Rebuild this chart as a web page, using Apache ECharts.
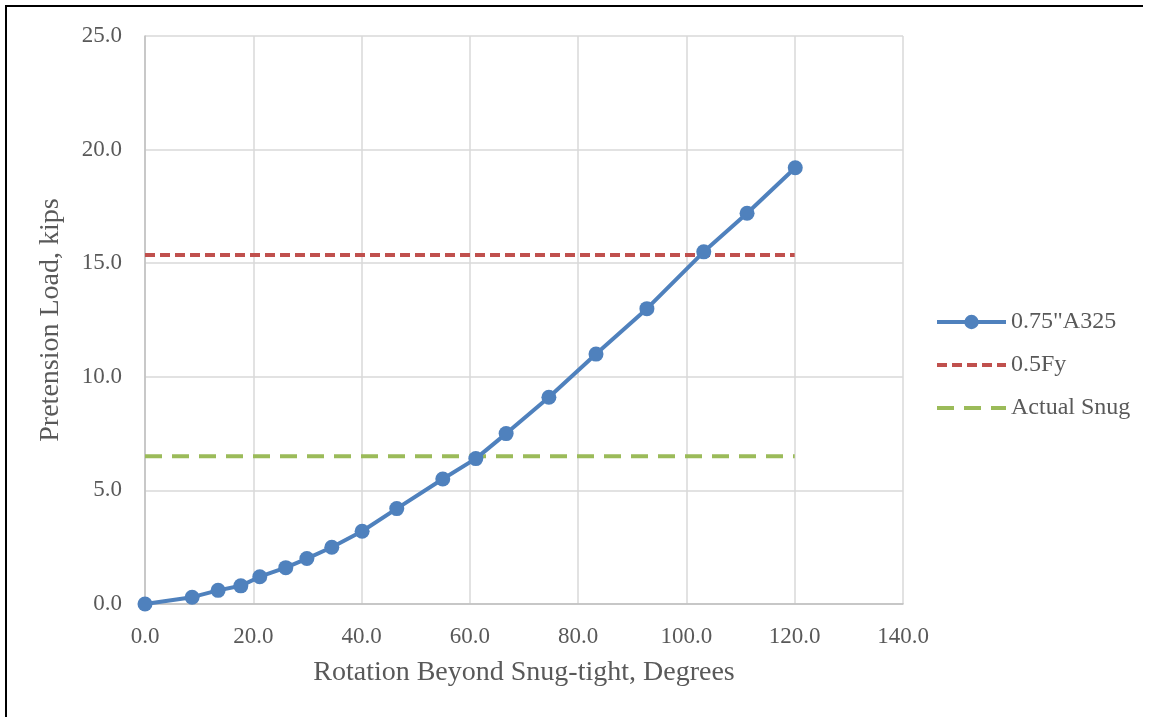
<!DOCTYPE html>
<html><head><meta charset="utf-8">
<script src="https://cdn.jsdelivr.net/npm/echarts@6/dist/echarts.min.js"></script>
<style>html,body{margin:0;padding:0;background:#fff}#c{width:1152px;height:717px}</style>
</head><body><div id="c"></div>
<script>
const rotationDeg = [0, 8.7, 13.5, 17.7, 21.2, 26.0, 29.9, 34.5, 40.1, 46.5, 55.0, 61.1, 66.7, 74.6, 83.3, 92.7, 103.2, 111.2, 120.1];
const pretensionKips = [0, 0.3, 0.6, 0.8, 1.2, 1.6, 2.0, 2.5, 3.2, 4.2, 5.5, 6.4, 7.5, 9.1, 11.0, 13.0, 15.5, 17.2, 19.2];
const refLineX = [0, 120];
const halfFyKips = 15.36;
const actualSnugKips = 6.5;
const seriesNames = ['0.75"A325', '0.5Fy', 'Actual Snug'];
const xTicks = {min: 0, max: 140, interval: 20};
const yTicks = {min: 0, max: 25, interval: 5};

const font = 'Liberation Serif';
const txt = '#595959';
const blue = '#4f81bd', red = '#c0504d', green = '#9bbb59';
const redDash = [10, 5], greenDash = [17, 10];
const chart = echarts.init(document.getElementById('c'), null, {renderer: 'canvas'});
chart.setOption({
  animation: false,
  backgroundColor: '#fff',
  textStyle: {fontFamily: font},
  grid: {left: 145, right: 249, top: 36, bottom: 113},
  legend: {
    orient: 'vertical', left: 935, top: 310, padding: 0, itemWidth: 69, itemHeight: 18, itemGap: 19,
    textStyle: {fontFamily: font, fontSize: 24, color: txt},
    data: [
      {name: seriesNames[0], lineStyle: {width: 4, color: blue}},
      {name: seriesNames[1], itemStyle: {opacity: 0}, lineStyle: {width: 4, color: red, type: redDash}},
      {name: seriesNames[2], itemStyle: {opacity: 0}, lineStyle: {width: 4, color: green, type: greenDash}}
    ]
  },
  xAxis: {
    type: 'value', min: xTicks.min, max: xTicks.max, interval: xTicks.interval,
    name: 'Rotation Beyond Snug-tight, Degrees', nameLocation: 'middle', nameGap: 55,
    nameTextStyle: {fontFamily: font, fontSize: 28, color: txt},
    axisLine: {show: true, lineStyle: {color: '#bfbfbf', width: 1.5}},
    axisTick: {show: false},
    axisLabel: {color: txt, fontSize: 23, fontFamily: font, margin: 21, formatter: v => v.toFixed(1)},
    splitLine: {show: true, lineStyle: {color: '#d9d9d9', width: 1.5}}
  },
  yAxis: {
    type: 'value', min: yTicks.min, max: yTicks.max, interval: yTicks.interval,
    name: 'Pretension Load, kips', nameLocation: 'middle', nameGap: 80, nameRotate: 90,
    nameTextStyle: {fontFamily: font, fontSize: 28, color: txt},
    axisLine: {show: true, lineStyle: {color: '#bfbfbf', width: 1.5}},
    axisTick: {show: false},
    axisLabel: {color: txt, fontSize: 23, fontFamily: font, margin: 23, formatter: v => v.toFixed(1)},
    splitLine: {show: true, lineStyle: {color: '#d9d9d9', width: 1.5}}
  },
  series: [
    {
      name: seriesNames[0], type: 'line', z: 5,
      data: rotationDeg.map((x, i) => [x, pretensionKips[i]]),
      symbol: 'circle', symbolSize: 15, showSymbol: true,
      lineStyle: {color: blue, width: 4},
      itemStyle: {color: blue}
    },
    {
      name: seriesNames[1], type: 'line', z: 3,
      data: refLineX.map(x => [x, halfFyKips]),
      symbol: 'none',
      lineStyle: {color: red, width: 4, type: redDash},
      itemStyle: {color: red}
    },
    {
      name: seriesNames[2], type: 'line', z: 3,
      data: refLineX.map(x => [x, actualSnugKips]),
      symbol: 'none',
      lineStyle: {color: green, width: 4, type: greenDash},
      itemStyle: {color: green}
    }
  ],
  graphic: [
    {type: 'line', shape: {x1: 5, y1: 6, x2: 1143, y2: 6}, style: {stroke: '#000', lineWidth: 2}},
    {type: 'line', shape: {x1: 6, y1: 5, x2: 6, y2: 717}, style: {stroke: '#000', lineWidth: 2}}
  ]
});
</script></body></html>
